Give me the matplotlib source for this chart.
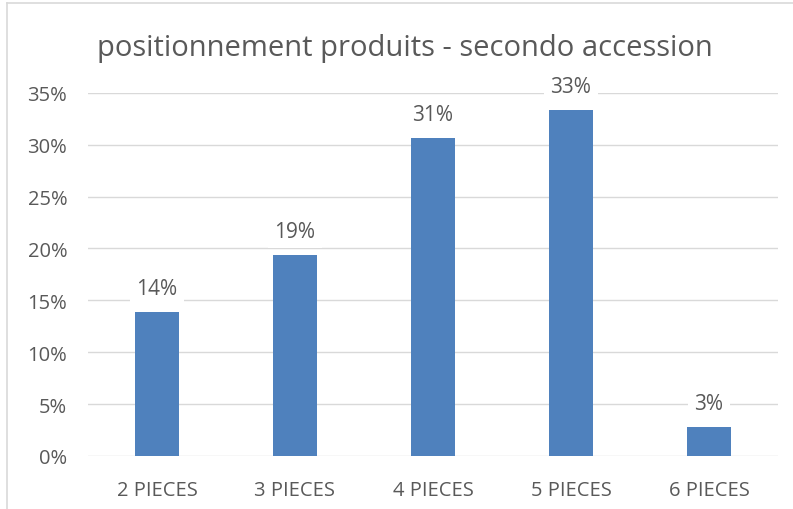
import matplotlib
matplotlib.use("Agg")
import matplotlib.pyplot as plt
from matplotlib.ticker import PercentFormatter

categories = ["2 PIECES", "3 PIECES", "4 PIECES", "5 PIECES", "6 PIECES"]
values = [0.139, 0.194, 0.306, 0.333, 0.028]
labels = ["14%", "19%", "31%", "33%", "3%"]

plt.rcParams['font.family'] = ['Open Sans', 'DejaVu Sans']
text_col = '#595959'
grid_col = '#D9D9D9'

fig = plt.figure(figsize=(7.93, 5.10), dpi=100)
ax = fig.add_axes([0.111, 0.104, 0.870, 0.712])

x = range(len(categories))
ax.bar(x, values, width=0.32, color='#4F81BD', zorder=2)

for xi, v, lab in zip(x, values, labels):
    ax.annotate(lab, (xi, v), xytext=(0, 17), textcoords='offset points',
                ha='center', va='center', fontsize=15, color=text_col, zorder=4,
                bbox=dict(boxstyle='square,pad=0.3', fc='white', ec='none'))

ax.set_ylim(0, 0.35)
ax.set_xlim(-0.5, 4.5)
ax.set_yticks([i * 0.05 for i in range(8)])
ax.yaxis.set_major_formatter(PercentFormatter(1.0, decimals=0))
ax.set_xticks(list(x))
ax.set_xticklabels(categories)
ax.tick_params(axis='both', length=0, labelsize=14.5, colors=text_col)
ax.tick_params(axis='y', pad=15)
ax.tick_params(axis='x', pad=17)
ax.grid(axis='y', color=grid_col, linewidth=1, zorder=0)
for s in ax.spines.values():
    s.set_visible(False)

fig.text(0.51, 0.905, "positionnement produits - secondo accession",
         ha='center', va='center', fontsize=21, color=text_col)

# chart border (left and top edges visible in crop)
fig.add_artist(plt.Line2D([0.009, 0.009], [0, 0.992], color=grid_col, lw=1.2))
fig.add_artist(plt.Line2D([0.009, 1], [0.992, 0.992], color=grid_col, lw=1.2))

fig.savefig("out.png", dpi=100)
